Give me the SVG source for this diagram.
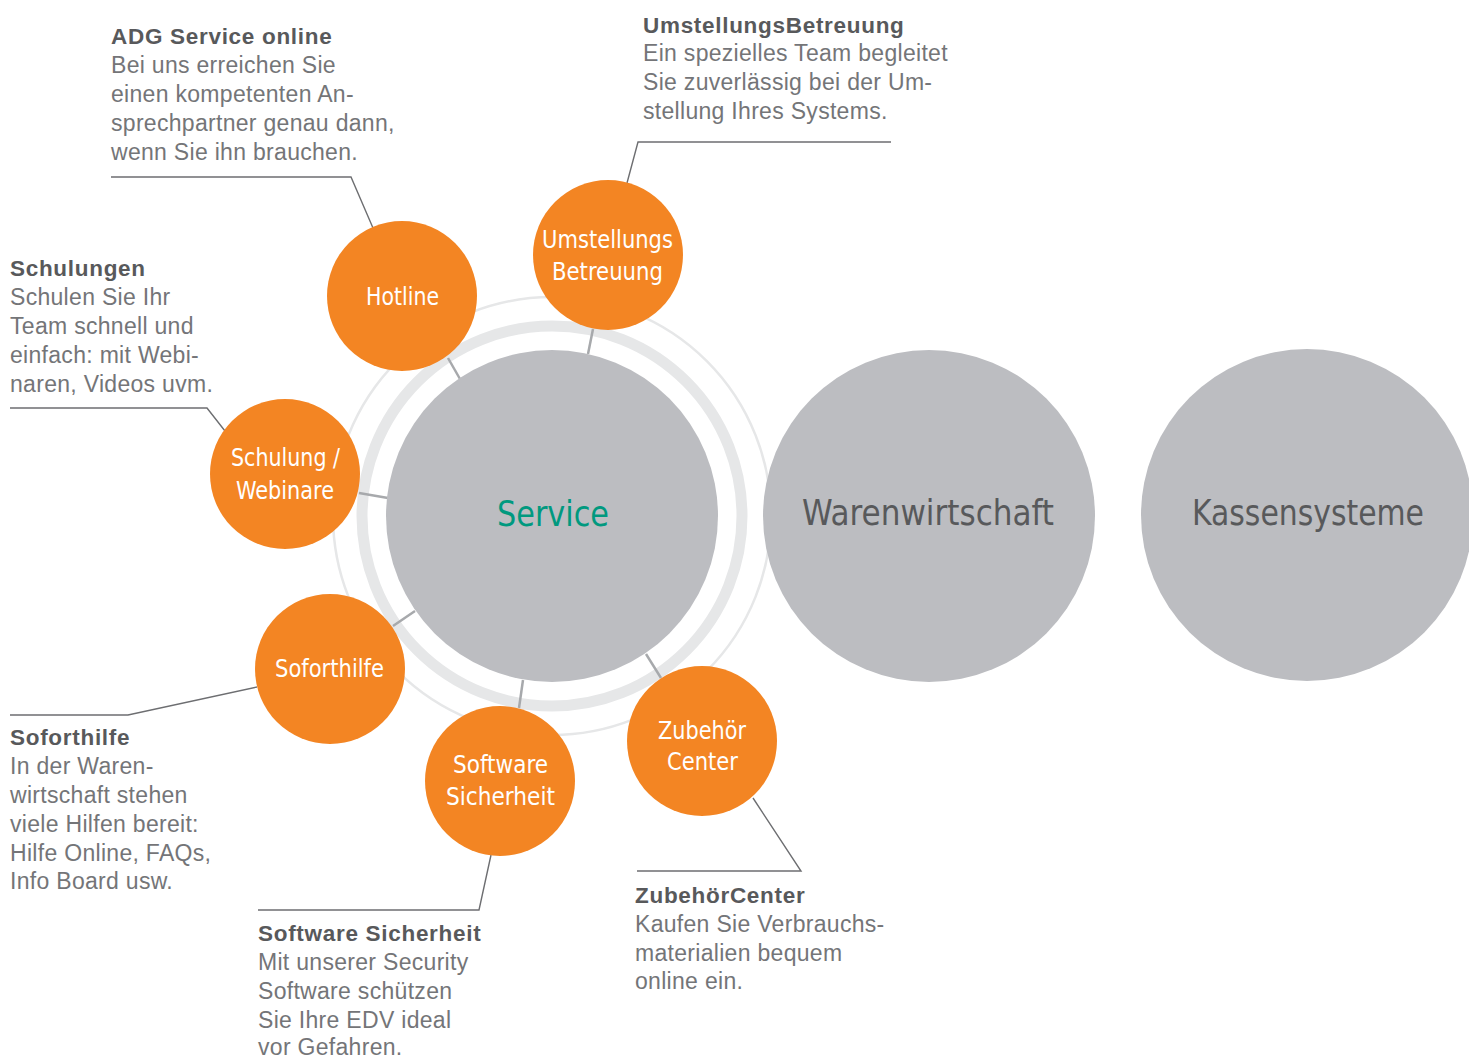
<svg xmlns="http://www.w3.org/2000/svg" width="1469" height="1057" viewBox="0 0 1469 1057">
<style>
.bg{fill:#ffffff}
.big{fill:#bcbdc1}
.orange{fill:#f38523}
.ring{fill:none;stroke:#e6e7e8;stroke-width:11}
.thin{fill:none;stroke:#e6e7e8;stroke-width:2.5}
.stub{stroke:#a7a9ac;stroke-width:2.5;fill:none}
.call{stroke:#6d6e71;stroke-width:1.4;fill:none}
.lbl{font-family:"Liberation Sans Narrow","DejaVu Sans Condensed","Liberation Sans",sans-serif;font-size:25px;fill:#ffffff;text-anchor:middle}
.bigl{font-family:"Liberation Sans Narrow","DejaVu Sans Condensed","Liberation Sans",sans-serif;font-size:36px;fill:#58595b;text-anchor:middle}
.svc{fill:#00997f}
.ttl{font-family:"Liberation Sans",Arial,sans-serif;font-size:22.5px;letter-spacing:0.7px;font-weight:bold;fill:#58595b}
.txt{font-family:"Liberation Sans",Arial,sans-serif;font-size:23px;letter-spacing:0.3px;fill:#747578}
</style>
<rect class="bg" x="0" y="0" width="1469" height="1057"/>
<g id="rings">
<circle class="thin" cx="552" cy="516" r="219"/>
<circle class="ring" cx="552" cy="516" r="190"/>
</g>
<g id="connectors">
<line class="stub" x1="448" y1="358" x2="460" y2="379"/>
<line class="stub" x1="593" y1="329" x2="588" y2="354"/>
<line class="stub" x1="359" y1="493" x2="388" y2="498"/>
<line class="stub" x1="393" y1="626" x2="415" y2="611"/>
<line class="stub" x1="519" y1="708" x2="523" y2="680"/>
<line class="stub" x1="661" y1="678" x2="646" y2="654"/>
<polyline class="call" points="111,177 351,177 373,228"/>
<polyline class="call" points="627,183 638,142 891,142"/>
<polyline class="call" points="10,408 207,408 225,431"/>
<polyline class="call" points="10,715 128,715 257,687"/>
<polyline class="call" points="491,855 479,910 258,910"/>
<polyline class="call" points="753,798 801,871 637,871"/>
</g>
<g id="service">
<circle class="big" cx="552" cy="516" r="166"/>
<text class="bigl svc" x="553" y="526" textLength="112" lengthAdjust="spacingAndGlyphs">Service</text>
</g>
<g id="warenwirtschaft">
<circle class="big" cx="929" cy="516" r="166"/>
<text class="bigl" x="928" y="525" textLength="252" lengthAdjust="spacingAndGlyphs">Warenwirtschaft</text>
</g>
<g id="kassensysteme">
<circle class="big" cx="1307" cy="515" r="166"/>
<text class="bigl" x="1308" y="525" textLength="232" lengthAdjust="spacingAndGlyphs">Kassensysteme</text>
</g>
<g id="hotline">
<circle class="orange" cx="402" cy="296" r="75"/>
<text class="lbl" x="402.5" y="305" textLength="73" lengthAdjust="spacingAndGlyphs">Hotline</text>
</g>
<g id="umstellung">
<circle class="orange" cx="608" cy="255" r="75"/>
<text class="lbl" x="607.5" y="248" textLength="131" lengthAdjust="spacingAndGlyphs">Umstellungs</text>
<text class="lbl" x="607.5" y="280" textLength="111" lengthAdjust="spacingAndGlyphs">Betreuung</text>
</g>
<g id="schulung">
<circle class="orange" cx="285" cy="474" r="75"/>
<text class="lbl" x="285.5" y="466" textLength="109" lengthAdjust="spacingAndGlyphs">Schulung /</text>
<text class="lbl" x="285" y="499" textLength="98" lengthAdjust="spacingAndGlyphs">Webinare</text>
</g>
<g id="soforthilfe">
<circle class="orange" cx="330" cy="669" r="75"/>
<text class="lbl" x="329.5" y="677" textLength="109" lengthAdjust="spacingAndGlyphs">Soforthilfe</text>
</g>
<g id="software">
<circle class="orange" cx="500" cy="781" r="75"/>
<text class="lbl" x="500.5" y="773" textLength="95" lengthAdjust="spacingAndGlyphs">Software</text>
<text class="lbl" x="500.5" y="805" textLength="109" lengthAdjust="spacingAndGlyphs">Sicherheit</text>
</g>
<g id="zubehoer">
<circle class="orange" cx="702" cy="741" r="75"/>
<text class="lbl" x="702" y="739" textLength="88" lengthAdjust="spacingAndGlyphs">Zubehör</text>
<text class="lbl" x="702.5" y="770" textLength="71" lengthAdjust="spacingAndGlyphs">Center</text>
</g>
<g id="text-adg">
<text class="ttl" x="111" y="44">ADG Service online</text>
<text class="txt" x="111" y="73">Bei uns erreichen Sie</text>
<text class="txt" x="111" y="102">einen kompetenten An-</text>
<text class="txt" x="111" y="131">sprechpartner genau dann,</text>
<text class="txt" x="111" y="160">wenn Sie ihn brauchen.</text>
</g>
<g id="text-umstellung">
<text class="ttl" x="643" y="33">UmstellungsBetreuung</text>
<text class="txt" x="643" y="61">Ein spezielles Team begleitet</text>
<text class="txt" x="643" y="90">Sie zuverlässig bei der Um-</text>
<text class="txt" x="643" y="119">stellung Ihres Systems.</text>
</g>
<g id="text-schulungen">
<text class="ttl" x="10" y="276">Schulungen</text>
<text class="txt" x="10" y="305">Schulen Sie Ihr</text>
<text class="txt" x="10" y="334">Team schnell und</text>
<text class="txt" x="10" y="363">einfach: mit Webi-</text>
<text class="txt" x="10" y="392">naren, Videos uvm.</text>
</g>
<g id="text-soforthilfe">
<text class="ttl" x="10" y="745">Soforthilfe</text>
<text class="txt" x="10" y="774">In der Waren-</text>
<text class="txt" x="10" y="803">wirtschaft stehen</text>
<text class="txt" x="10" y="832">viele Hilfen bereit:</text>
<text class="txt" x="10" y="861">Hilfe Online, FAQs,</text>
<text class="txt" x="10" y="889">Info Board usw.</text>
</g>
<g id="text-software">
<text class="ttl" x="258" y="941">Software Sicherheit</text>
<text class="txt" x="258" y="970">Mit unserer Security</text>
<text class="txt" x="258" y="999">Software schützen</text>
<text class="txt" x="258" y="1028">Sie Ihre EDV ideal</text>
<text class="txt" x="258" y="1055">vor Gefahren.</text>
</g>
<g id="text-zubehoer">
<text class="ttl" x="635" y="903">ZubehörCenter</text>
<text class="txt" x="635" y="932">Kaufen Sie Verbrauchs-</text>
<text class="txt" x="635" y="961">materialien bequem</text>
<text class="txt" x="635" y="989">online ein.</text>
</g>
</svg>
